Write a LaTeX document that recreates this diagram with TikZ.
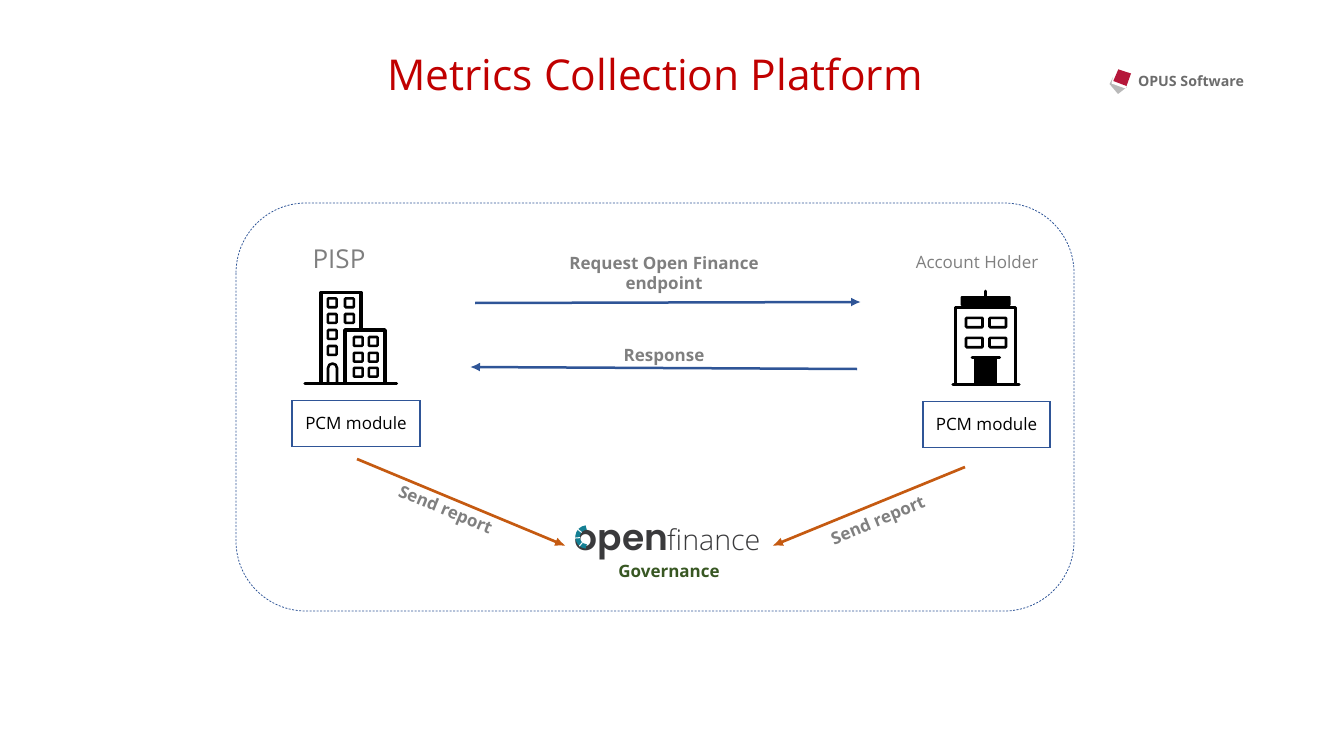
\documentclass[tikz,border=0pt]{standalone}
\usepackage{fontspec}
\setmainfont{Open Sans}
\newfontfamily\logolight{Open Sans Light}
\newfontfamily\logobold{Poppins}[UprightFont=* SemiBold]
\usetikzlibrary{arrows.meta}
\definecolor{titlered}{HTML}{C00000}
\definecolor{flowblue}{HTML}{2F5597}
\definecolor{reportorange}{HTML}{C55A11}
\definecolor{labelgray}{HTML}{7F7F7F}
\definecolor{govgreen}{HTML}{385723}
\definecolor{logoteal}{HTML}{147F93}
\definecolor{logodark}{HTML}{3A3A3C}
\definecolor{markred}{HTML}{B5173A}
\newcommand{\fsz}[1]{\fontsize{#1}{20}\selectfont}
\tikzset{
  module/.style={draw=flowblue, line width=1.9pt, minimum width=127.5pt, minimum height=46pt, inner sep=0pt, font=\fsz{17}},
  flow/.style={draw=flowblue, line width=2.5pt, -{Latex[length=10pt,width=9pt]}},
  report/.style={draw=reportorange, line width=2.7pt, -{Latex[length=11pt,width=9pt]}},
  flowlabel/.style={text=labelgray, font=\fsz{17}\bfseries, align=center, inner sep=0pt},
  icon/.style={line width=3.4pt, line cap=round, line join=round},
  pane/.style={line width=2.6pt, rounded corners=0.8pt}
}
\begin{document}
\begin{tikzpicture}[x=1pt,y=-1pt]
  \useasboundingbox (0,0) rectangle (1332,743);
  \node (title) at (655,74.5) {\fsz{42.5}\textcolor{titlered}{Metrics Collection Platform}};
  % company mark
  \fill[gray!55] (1109.5,84) -- (1113,77) -- (1127,87) -- (1118,94) -- cycle;
  \fill[white] (1113,77) -- (1127,84) -- (1125.5,88.5) -- (1111.5,83.5) -- cycle;
  \fill[markred] (1118.3,69.3) -- (1131,73.5) -- (1126.5,86) -- (1113.3,81) -- cycle;
  \node[text=gray!85!black, font=\fsz{14.2}\bfseries, inner sep=0pt] (company) at (1191,81.5) {OPUS Software};
  % outer frame
  \draw[flowblue, line width=0.8pt, dash pattern=on 2pt off 1.5pt, rounded corners=70pt] (236,203) rectangle (1074,611);
  \node[text=labelgray, font=\fsz{26}, inner sep=0pt] (pisp) at (339,259.5) {PISP};
  \node[text=labelgray, font=\fsz{17}, inner sep=0pt] (holder) at (977,262) {Account Holder};
  % pisp building
  \draw[icon] (305,383.5) -- (396.5,383.5);
  \draw[icon] (321,383) -- (321,292.5) -- (361,292.5) -- (361,330);
  \draw[icon] (345,383) -- (345,330) -- (385,330) -- (385,383);
  \foreach \wx/\wy in {327.8/298.4,345/298.4,327.8/314,345/314,327.8/330,327.8/346,353.8/337,368.8/337,353.8/352.8,368.8/352.8,353.8/367.8,368.8/367.8}
    \draw[pane] (\wx,\wy) rectangle ++(8.8,8.8);
  \draw[icon, line width=2.6pt] (328,383) -- (328,368) arc[start angle=180, end angle=360, radius=4.5] -- (337,383);
  % holder building
  \draw[icon] (953,384.5) -- (1019,384.5);
  \draw[icon] (955.5,384) -- (955.5,307.5) -- (1015.5,307.5) -- (1015.5,384);
  \fill[rounded corners=1pt] (960.5,306) rectangle (1010.5,296);
  \draw[line width=2.6pt, line cap=round] (985.5,296) -- (985.5,291);
  \foreach \wx/\wy in {966/317.8,989.5/317.8,966/337.8,989.5/337.8}
    \draw[pane] (\wx,\wy) rectangle ++(16.5,9.4);
  \draw[line width=3pt, line cap=round] (972,357) -- (999.5,357);
  \fill (974,357) rectangle (997,384);
  % modules
  \node[module] (pcmleft) at (356,423.5) {PCM module};
  \node[module] (pcmright) at (986.5,424.5) {PCM module};
  % messages
  \coordinate (reqstart) at (475,303);
  \coordinate (reqend) at (861,302);
  \coordinate (respstart) at (857,369);
  \coordinate (respend) at (470,367);
  \draw[flow] (reqstart) -- (reqend);
  \draw[flow] (respstart) -- (respend);
  \node[flowlabel] (reqlabel) at (664,275) {Request Open Finance\\endpoint};
  \node[flowlabel] (resplabel) at (664,357) {Response};
  % reports
  \coordinate (sendleft) at (357,459);
  \coordinate (sendright) at (965,467);
  \coordinate (govleft) at (566,546);
  \coordinate (govright) at (772,546);
  \draw[report] (sendleft) -- (govleft);
  \draw[report] (sendright) -- (govright);
  \node[flowlabel, rotate=-22.5] (reportleft) at (445,511) {Send report};
  \node[flowlabel, rotate=22.5] (reportright) at (878.5,522) {Send report};
  % logo
  \node[inner sep=0pt, text=logodark, anchor=base west] (logoa) at (574.5,550) {\logobold\fsz{36}open};
  \node[inner sep=0pt, text=logodark, anchor=base west] (logob) at (667,550) {\logolight\fsz{28.6}finance};
  \draw[logoteal, line width=4.5pt] (587,537) ++(95:9.5) arc[start angle=95, end angle=265, radius=9.5];
  \foreach \cutang in {130,175,220}
    \draw[white, line width=1pt] (587,537) ++(\cutang:7) -- ++(\cutang:5);
  \node[text=govgreen, font=\fsz{17}\bfseries, inner sep=0pt] (gov) at (669,571.5) {Governance};
\end{tikzpicture}
\end{document}
